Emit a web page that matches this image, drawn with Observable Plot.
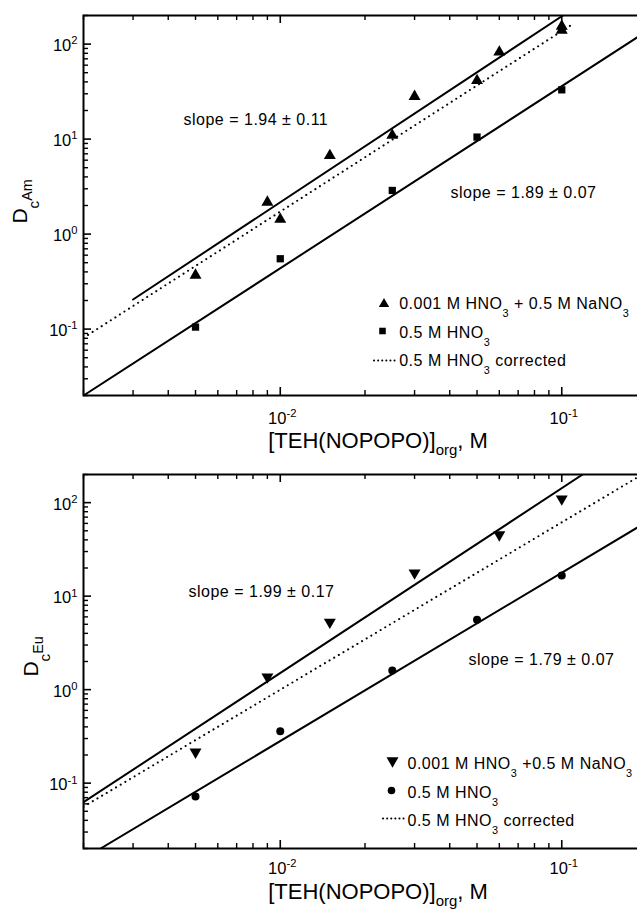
<!DOCTYPE html>
<html><head><meta charset="utf-8">
<script src="https://cdn.jsdelivr.net/npm/d3@7"></script>
<script src="https://cdn.jsdelivr.net/npm/@observablehq/plot@0.6"></script>
<style>
html,body{margin:0;padding:0;background:#fff;overflow:hidden;}
#wrap{position:relative;width:637px;height:909px;overflow:hidden;background:#fff;}
#wrap svg{position:absolute;left:0;max-width:none !important;background:transparent !important;overflow:visible !important;font-family:"Liberation Sans",Arial,Helvetica,sans-serif;color:#000;}
#wrap g[font-size="16"] text{letter-spacing:0.5px;}
</style></head><body><div id="wrap"></div>
<script>
// ---------- data ----------
// Am panel
const amNaNO3X = [0.005, 0.009, 0.01, 0.015, 0.025, 0.03, 0.05, 0.06, 0.1, 0.1];
const amNaNO3Y = [0.385, 2.26, 1.49, 7.0, 11.4, 29.3, 43, 86, 161, 146];
const amHNO3X = [0.005, 0.01, 0.025, 0.05, 0.1];
const amHNO3Y = [0.105, 0.55, 2.88, 10.5, 33];
const amFitNaNO3 = [[0.003, 0.205], [0.101, 200]];
const amFitHNO3 = [[0.002, 0.02], [0.2, 136]];
const amCorrected = [[0.002, 0.081], [0.1074, 157]];
const amSlopes = ["slope = 1.94 ± 0.11", "slope = 1.89 ± 0.07"];
const amLegend = ["0.001 M HNO_{3} + 0.5 M NaNO_{3}", "0.5 M HNO_{3}", "0.5 M HNO_{3} corrected"];
// Eu panel
const euNaNO3X = [0.005, 0.009, 0.015, 0.03, 0.06, 0.1];
const euNaNO3Y = [0.206, 1.31, 5.06, 17.0, 43.4, 105];
const euHNO3X = [0.005, 0.01, 0.025, 0.05, 0.1];
const euHNO3Y = [0.072, 0.36, 1.6, 5.6, 16.6];
const euFitNaNO3 = [[0.002, 0.0625], [0.1186, 200]];
const euFitHNO3 = [[0.0023, 0.02], [0.2, 62]];
const euCorrected = [[0.002, 0.056], [0.2, 213]];
const euSlopes = ["slope = 1.99 ± 0.17", "slope = 1.79 ± 0.07"];
const euLegend = ["0.001 M HNO_{3} +0.5 M NaNO_{3}", "0.5 M HNO_{3}", "0.5 M HNO_{3} corrected"];
// axes
const xTicks = [0.01, 0.1];
const xTickLabels = ["10^{-2}", "10^{-1}"];
const xMinor = [0.002, 0.003, 0.004, 0.005, 0.006, 0.007, 0.008, 0.009, 0.02, 0.03, 0.04, 0.05, 0.06, 0.07, 0.08, 0.09, 0.2];
const yTicks = [0.1, 1, 10, 100];
const yTickLabels = ["10^{-1}", "10^{0}", "10^{1}", "10^{2}"];
const yMinor = [0.02, 0.03, 0.04, 0.05, 0.06, 0.07, 0.08, 0.09, 0.2, 0.3, 0.4, 0.5, 0.6, 0.7, 0.8, 0.9, 2, 3, 4, 5, 6, 7, 8, 9, 20, 30, 40, 50, 60, 70, 80, 90, 200];
const xTitle = "[TEH(NOPOPO)]_{org}, M";

// ---------- symbols ----------
const triUp = {draw(ctx, size) { const r = Math.sqrt(size / Math.PI); const s = 2.6 * r, h = s * 0.866; ctx.moveTo(0, -h / 2); ctx.lineTo(s / 2, h / 2); ctx.lineTo(-s / 2, h / 2); ctx.closePath(); }};
const triDown = {draw(ctx, size) { const r = Math.sqrt(size / Math.PI); const s = 2.6 * r, h = s * 0.866; ctx.moveTo(0, h / 2); ctx.lineTo(s / 2, -h / 2); ctx.lineTo(-s / 2, -h / 2); ctx.closePath(); }};
const hLine = {draw(ctx, size) { ctx.moveTo(-10.5, 0); ctx.lineTo(10.5, 0); }};

// sub/superscript rendering: _{..} subscript, ^{..} superscript
function richify(svg) {
  d3.select(svg).selectAll("text").each(function() {
    const t = this.textContent;
    if (!/[_^]\{/.test(t)) return;
    const fs = parseFloat(getComputedStyle(this).fontSize);
    const isYTitle = t.startsWith("D_");
    const isXTitle = t.startsWith("[TEH");
    const subDy = isYTitle ? 0.6 : isXTitle ? 0.36 : 0.5;
    const supDy = isYTitle ? 0.24 : -0.42;
    const subSize = isYTitle ? 0.72 : 0.68;
    const parts = []; const re = /([_^])\{([^}]*)\}/g; let last = 0, m;
    while ((m = re.exec(t))) {
      if (m.index > last) parts.push([t.slice(last, m.index), 0]);
      parts.push([m[2], m[1] === "_" ? 1 : -1]);
      last = re.lastIndex;
    }
    if (last < t.length) parts.push([t.slice(last), 0]);
    this.textContent = "";
    let cur = 0;
    for (const [s, k] of parts) {
      const target = k === 1 ? fs * subDy : k === -1 ? fs * supDy : 0;
      const ts = d3.select(this).append("tspan").text(s);
      if (target !== cur) ts.attr("dy", target - cur);
      if (k === 1) ts.attr("font-size", fs * subSize);
      if (k === -1) ts.attr("font-size", fs * 0.68);
      cur = target;
    }
  });
}

function panel(c) {
  const W = 646, ML = 83;
  const fw = W - ML, fh = c.height - c.mt - c.mb;
  const sym = c.sym;
  const legendText = (i) => Plot.text([c.legend[i]], {text: d => d, frameAnchor: "top-left", dx: c.ltx, dy: c.lty[i], textAnchor: "start", lineAnchor: "bottom", fontSize: 16});
  return Plot.plot({
    width: W, height: c.height,
    marginLeft: ML, marginRight: 0, marginTop: c.mt, marginBottom: c.mb,
    x: {type: "log", domain: [0.002, 0.2], axis: null},
    y: {type: "log", domain: [0.02, 200], axis: null},
    marks: [
      // ticks (inward)
      Plot.tickX(xMinor, {x: d => d, insetTop: fh - 5, strokeWidth: 1.4}),
      Plot.tickX(xMinor, {x: d => d, insetBottom: fh - 5, strokeWidth: 1.4}),
      Plot.tickX(xTicks, {x: d => d, insetTop: fh - 8, strokeWidth: 1.6}),
      Plot.tickX(xTicks, {x: d => d, insetBottom: fh - 8, strokeWidth: 1.6}),
      Plot.tickY(yMinor, {y: d => d, insetRight: fw - 5, strokeWidth: 1.4}),
      Plot.tickY(yTicks, {y: d => d, insetRight: fw - 8, strokeWidth: 1.6}),
      Plot.frame({strokeWidth: 2}),
      // tick labels
      Plot.text(yTicks, {y: d => d, text: (d, i) => yTickLabels[i], frameAnchor: "left", dx: -6, dy: 2, textAnchor: "end", lineAnchor: "middle", fontSize: 16.5}),
      Plot.text(xTicks, {x: d => d, text: (d, i) => xTickLabels[i], frameAnchor: "bottom", dy: c.xlDy, dx: 2, textAnchor: "middle", lineAnchor: "bottom", fontSize: 16.5}),
      // titles
      Plot.text([xTitle], {text: d => d, frameAnchor: "bottom", dx: 13, dy: c.xtDy, textAnchor: "middle", lineAnchor: "bottom", fontSize: 22}),
      Plot.text([c.yTitle], {text: d => d, frameAnchor: "left", rotate: -90, dx: c.ytDx, dy: c.ytDy, textAnchor: "middle", lineAnchor: "bottom", fontSize: 21}),
      // fit lines
      Plot.line(c.fitA, {x: d => d[0], y: d => d[1], stroke: "black", strokeWidth: 2, clip: true}),
      Plot.line(c.fitB, {x: d => d[0], y: d => d[1], stroke: "black", strokeWidth: 2, clip: true}),
      Plot.line(c.corr, {x: d => d[0], y: d => d[1], stroke: "black", strokeWidth: 2, strokeDasharray: "0.1,5.3", strokeLinecap: "round", clip: true}),
      // data
      Plot.dot(c.ax, {x: d => d, y: (d, i) => c.ay[i], symbol: sym.a, r: sym.ar, fill: "black", stroke: "none"}),
      Plot.dot(c.bx, {x: d => d, y: (d, i) => c.by[i], symbol: sym.b, r: sym.br, fill: "black", stroke: "none"}),
      // slope labels
      Plot.text([c.slopes[0]], {text: d => d, frameAnchor: "top-left", dx: c.s1[0], dy: c.s1[1], textAnchor: "start", lineAnchor: "bottom", fontSize: 16}),
      Plot.text([c.slopes[1]], {text: d => d, frameAnchor: "top-left", dx: c.s2[0], dy: c.s2[1], textAnchor: "start", lineAnchor: "bottom", fontSize: 16}),
      // legend
      Plot.dot([0], {frameAnchor: "top-left", dx: c.lg[0][0], dy: c.lg[0][1], symbol: sym.a, r: sym.lar, fill: "black", stroke: "none"}),
      Plot.dot([0], {frameAnchor: "top-left", dx: c.lg[1][0], dy: c.lg[1][1], symbol: sym.b, r: sym.lbr, fill: "black", stroke: "none"}),
      Plot.dot([0], {frameAnchor: "top-left", dx: c.lg[2][0], dy: c.lg[2][1], symbol: hLine, fill: "none", stroke: "black", strokeWidth: 2, strokeDasharray: "0.1,4", strokeLinecap: "round"}),
      legendText(0), legendText(1), legendText(2)
    ]
  });
}

const wrap = document.getElementById("wrap");
const topPanel = panel({
  height: 450, mt: 15, mb: 55,
  yTitle: "D_{c}^{Am}", ytDx: -57, ytDy: -4, xtDy: 52, xlDy: 28,
  fitA: amFitNaNO3, fitB: amFitHNO3, corr: amCorrected,
  ax: amNaNO3X, ay: amNaNO3Y, bx: amHNO3X, by: amHNO3Y,
  sym: {a: triUp, ar: 4.6, b: "square", br: 4.1, lar: 4.0, lbr: 3.7},
  slopes: amSlopes, s1: [100, 109], s2: [367, 182],
  legend: amLegend, lg: [[300.5, 287], [299, 315.5], [301, 345]], ltx: 315.7, lty: [293, 322, 350]
});
topPanel.style.top = "0px";
wrap.appendChild(topPanel);
const bottomPanel = panel({
  height: 459, mt: 24, mb: 61,
  yTitle: "D_{c}^{Eu}", ytDx: -46, ytDy: -5, xtDy: 50, xlDy: 25,
  fitA: euFitNaNO3, fitB: euFitHNO3, corr: euCorrected,
  ax: euNaNO3X, ay: euNaNO3Y, bx: euHNO3X, by: euHNO3Y,
  sym: {a: triDown, ar: 4.6, b: "circle", br: 4, lar: 4.6, lbr: 3.8},
  slopes: euSlopes, s1: [105, 122], s2: [385, 190],
  legend: euLegend, lg: [[309, 288], [308, 316], [310, 344]], ltx: 324, lty: [294, 323, 351]
});
bottomPanel.style.top = "450px";
wrap.appendChild(bottomPanel);
richify(topPanel);
richify(bottomPanel);
</script>
</body></html>
